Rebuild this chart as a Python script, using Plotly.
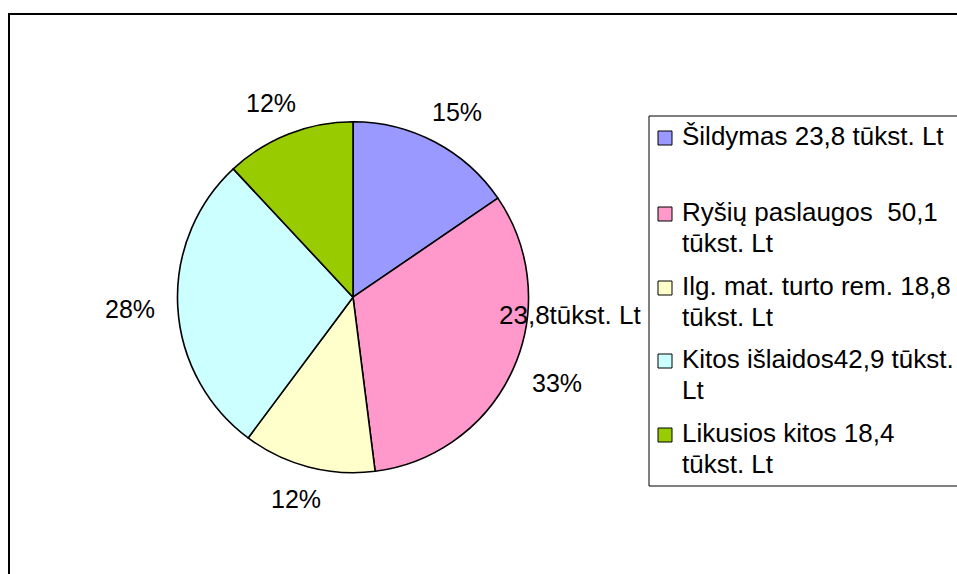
import math
import plotly.graph_objects as go

# ---- data ----
labels = ["Šildymas 23,8 tūkst. Lt", "Ryšių paslaugos  50,1 tūkst. Lt",
          "Ilg. mat. turto rem. 18,8 tūkst. Lt", "Kitos išlaidos42,9 tūkst. Lt",
          "Likusios kitos 18,4 tūkst. Lt"]
values = [23.8, 50.1, 18.8, 42.9, 18.4]
colors = ["#9999FF", "#FF99CC", "#FFFFCC", "#CCFFFF", "#99CC00"]
legend_lines = [["Šildymas 23,8 tūkst. Lt"],
                ["Ryšių paslaugos \u00a050,1", "tūkst. Lt"],
                ["Ilg. mat. turto rem. 18,8", "tūkst. Lt"],
                ["Kitos išlaidos42,9 tūkst.", "Lt"],
                ["Likusios kitos 18,4", "tūkst. Lt"]]
stray_label = "23,8tūkst. Lt"

W, H = 957, 574
FONT = "Liberation Sans, Arial, sans-serif"
FS_PCT = 25
FS_TXT = 26

def px(x):
    return x / W

def py(y):
    return 1 - y / H

# pie geometry (pixels)
cx, cy, R = 353.0, 297.2, 175.5

fig = go.Figure(go.Pie(
    labels=labels, values=values, sort=False, direction="clockwise", rotation=0,
    marker=dict(colors=colors, line=dict(color="black", width=1.6)),
    textinfo="none", hoverinfo="label+value+percent", showlegend=False,
    domain=dict(x=[px(cx - R), px(cx + R)], y=[py(cy + R), py(cy - R)]),
))

annotations = []
shapes = []

# percentage labels around the pie, placed at each slice's mid-angle
total = sum(values)
cum = 0.0
for v in values:
    frac = v / total
    mid = (cum + frac / 2) * 2 * math.pi
    cum += frac
    s, c = math.sin(mid), math.cos(mid)
    w, h = 48, 19
    r = R + 24
    x = cx + r * s + w / 2 * s
    y = cy - r * c - h / 2 * c
    annotations.append(dict(x=px(x), y=py(y), xref="paper", yref="paper",
                            text=f"{round(frac * 100)}%", showarrow=False,
                            xanchor="center", yanchor="middle",
                            font=dict(family=FONT, size=FS_PCT, color="black")))

# stray text label
annotations.append(dict(x=px(569.7), y=py(315), xref="paper", yref="paper",
                        text=stray_label, showarrow=False, xanchor="center",
                        yanchor="middle", font=dict(family=FONT, size=FS_TXT, color="black")))

# outer chart frame
shapes.append(dict(type="rect", xref="paper", yref="paper",
                   x0=px(9), x1=px(1000), y0=py(620), y1=py(14),
                   line=dict(color="black", width=2), fillcolor="rgba(0,0,0,0)"))

# legend box
shapes.append(dict(type="rect", xref="paper", yref="paper",
                   x0=px(649), x1=px(1000), y0=py(486), y1=py(116),
                   line=dict(color="black", width=1), fillcolor="rgba(0,0,0,0)"))

first_line = [136, 212, 286, 359, 433]
line_gap = 31
for i, lines in enumerate(legend_lines):
    yc = first_line[i]
    shapes.append(dict(type="rect", xref="paper", yref="paper",
                       x0=px(658), x1=px(672), y0=py(yc + 2 + 7), y1=py(yc + 2 - 7),
                       line=dict(color="black", width=1), fillcolor=colors[i]))
    for j, ln in enumerate(lines):
        annotations.append(dict(x=px(680), y=py(yc + j * line_gap), xref="paper", yref="paper",
                                text=ln, showarrow=False, xanchor="left", yanchor="middle",
                                font=dict(family=FONT, size=FS_TXT, color="black")))

fig.update_layout(width=W, height=H, margin=dict(l=0, r=0, t=0, b=0),
                  paper_bgcolor="white", plot_bgcolor="white", showlegend=False,
                  annotations=annotations, shapes=shapes)

fig.write_html("out.html", config={"displayModeBar": False},
               post_script="document.body.style.margin='0';document.body.style.overflow='hidden';")
